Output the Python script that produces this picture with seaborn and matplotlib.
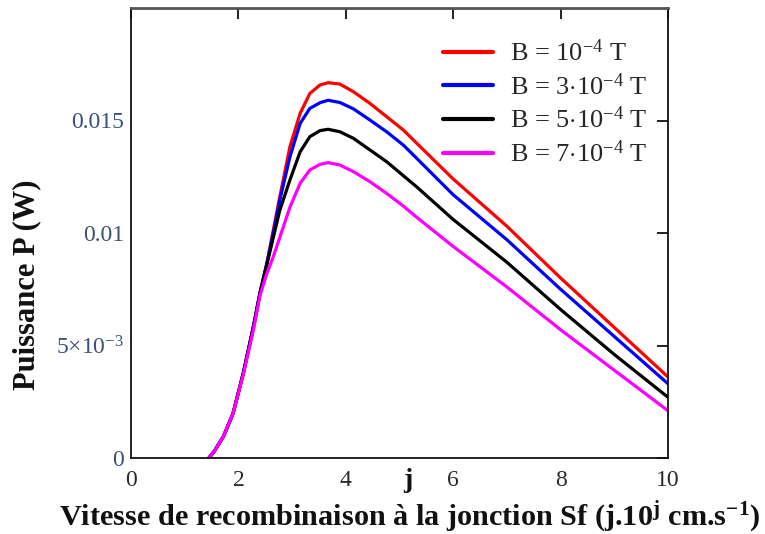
import numpy as np
import pandas as pd
import matplotlib
matplotlib.use("Agg")
import matplotlib.pyplot as plt
import matplotlib.transforms as mtransforms
import seaborn as sns

# ---- data, P in units of 1e-3 W ----
x_vals = [1.45, 1.55, 1.72, 1.9, 2.09, 2.28, 2.4, 2.53, 2.65, 2.77, 2.96, 3.15,
          3.33, 3.52, 3.67, 3.89, 4.14, 4.45, 4.76, 5.07, 5.32, 6.0, 7.0, 8.0,
          9.0, 10.0]
p_b1 = [0.0, 0.3, 0.95, 1.98, 3.76, 5.84, 7.32, 8.65, 10.13, 11.6, 13.84, 15.32,
        16.2, 16.58, 16.68, 16.62, 16.28, 15.76, 15.17, 14.58, 13.99, 12.4, 10.3,
        8.0, 5.8, 3.6]
p_b3 = [0.0, 0.3, 0.95, 1.98, 3.76, 5.84, 7.32, 8.65, 10.0, 11.45, 13.39, 14.87,
        15.54, 15.79, 15.9, 15.8, 15.52, 15.02, 14.5, 13.91, 13.32, 11.7, 9.7,
        7.5, 5.4, 3.3]
p_b5 = [0.0, 0.3, 0.95, 1.98, 3.76, 5.84, 7.3, 8.6, 9.8, 11.0, 12.36, 13.61,
        14.28, 14.55, 14.61, 14.5, 14.21, 13.69, 13.17, 12.55, 12.05, 10.6, 8.7,
        6.6, 4.6, 2.7]
p_b7 = [0.0, 0.3, 0.95, 1.98, 3.7, 5.7, 7.2, 8.2, 8.95, 9.8, 11.15, 12.21,
        12.8, 13.05, 13.13, 13.02, 12.73, 12.28, 11.76, 11.2, 10.7, 9.4, 7.6,
        5.7, 3.9, 2.1]
series_labels = [r"B = 10$^{-4}$ T", r"B = 3$\cdot$10$^{-4}$ T",
                 r"B = 5$\cdot$10$^{-4}$ T", r"B = 7$\cdot$10$^{-4}$ T"]
series_colors = ["#ff0000", "#0000ff", "#000000", "#ff00ff"]
x_ticks = [0, 2, 4, 6, 8, 10]
x_tick_labels = ["0", "2", "4", "6", "8", "10"]
y_ticks = [0.0, 0.005, 0.01, 0.015]
y_tick_labels = ["0", r"5$\times$10$^{-3}$", "0.01", "0.015"]

# ---- long-form table ----
rows = []
for lab, vals in zip(series_labels, [p_b1, p_b3, p_b5, p_b7]):
    for xv, pv in zip(x_vals, vals):
        rows.append({"Sf": xv, "P": pv * 1e-3, "B": lab})
df = pd.DataFrame(rows)

sns.set_theme(style="white")
plt.rcParams["font.family"] = ["Liberation Serif", "DejaVu Serif"]
plt.rcParams["mathtext.fontset"] = "custom"
plt.rcParams["mathtext.rm"] = "Liberation Serif"
plt.rcParams["mathtext.it"] = "Liberation Serif:italic"
plt.rcParams["mathtext.bf"] = "Liberation Serif:bold"

fig = plt.figure(figsize=(7.65, 5.34), dpi=100)
ax = fig.add_axes([131 / 765, 1 - 458 / 534, 537 / 765, 450 / 534])

sns.lineplot(data=df, x="Sf", y="P", hue="B", hue_order=series_labels,
             palette=dict(zip(series_labels, series_colors)),
             estimator=None, sort=False, linewidth=2.3, ax=ax)

ax.set_xlim(0, 10)
ax.set_ylim(0, 0.02)
ax.set_xticks(x_ticks, x_tick_labels)
ax.set_yticks(y_ticks, y_tick_labels)

for side in ["left", "bottom", "right"]:
    ax.spines[side].set_color("#111111")
    ax.spines[side].set_linewidth(1.3)
ax.spines["top"].set_color("#555555")
ax.spines["top"].set_linewidth(2.0)

ax.tick_params(axis="both", which="major", direction="in", length=8,
               width=1.3, color="#111111", labelsize=17,
               top=True, right=True)
ax.tick_params(axis="x", pad=9, labelcolor="#2a2a2a")
ax.tick_params(axis="y", pad=5, labelcolor="#3a5278")

ax.set_xlabel(r"Vitesse de recombinaison à la jonction Sf (j.10$^{\mathbf{j}}$ cm.s$^{\mathbf{-1}}$)",
              fontsize=21.8, fontweight="bold", color="#111111")
ax.xaxis.set_label_coords(0.518, -0.092)
ax.xaxis.label.set_va("top")
ax.set_ylabel("Puissance P (W)", fontsize=22, fontweight="bold",
              color="#111111")
ax.yaxis.set_label_coords(-0.168, 0.384)

trans = mtransforms.blended_transform_factory(ax.transData, ax.transAxes)
ax.text(5.15, -0.022, "j", transform=trans, fontsize=20, fontweight="bold",
        ha="center", va="top", color="#111111")

leg = ax.legend(loc="upper left", bbox_to_anchor=(0.581, 0.93), frameon=False,
                fontsize=19, handlelength=1.9, handletextpad=0.65,
                labelspacing=0.27, borderaxespad=0, borderpad=0)
for h in leg.get_lines():
    h.set_linewidth(3)

fig.savefig("out.png", dpi=100)
